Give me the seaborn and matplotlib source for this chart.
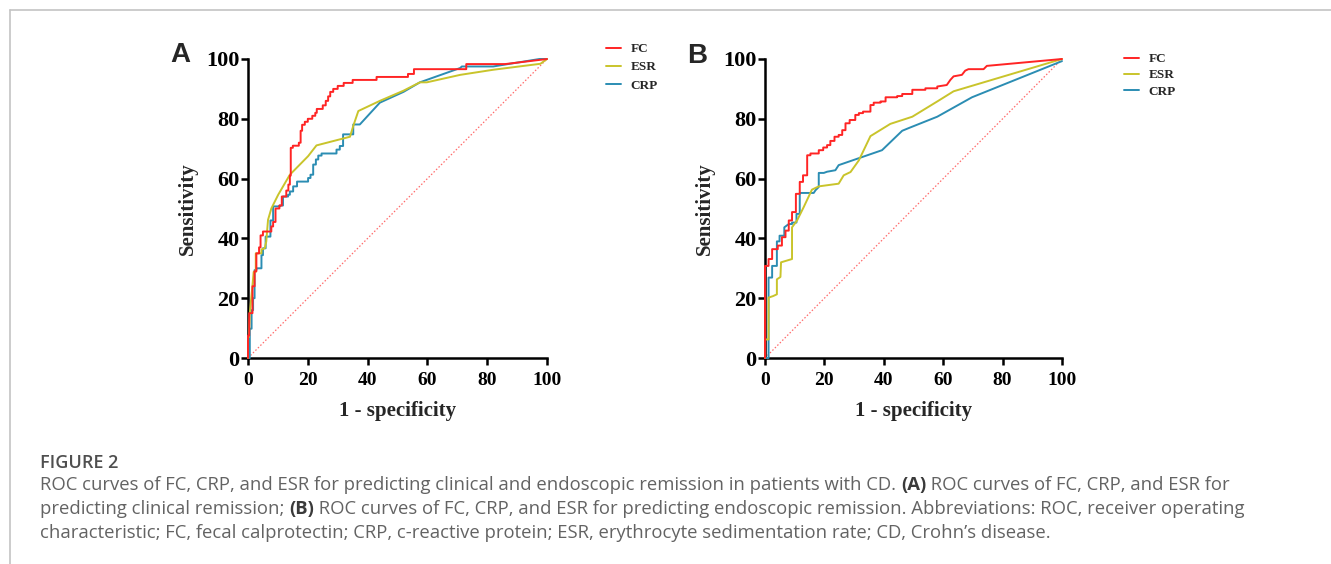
import numpy as np
import pandas as pd
import matplotlib
matplotlib.use('Agg')
import matplotlib.pyplot as plt
from matplotlib.lines import Line2D
import seaborn as sns

# ── ROC points: (1 - specificity, sensitivity), in % ──

# Panel A: clinical remission
fc_a = [(0, 0), (0, 7.5), (0.4, 7.5), (0.4, 15), (1.5, 15), (1.5, 24), (2.2, 24), (2.2, 29),
        (2.8, 29), (2.8, 35), (3.7, 35), (3.7, 37), (4.2, 37), (4.2, 41), (5, 41), (5, 42.3),
        (7.8, 42.3), (7.8, 44), (8.4, 44), (8.4, 45.5), (9.2, 45.5), (9.2, 50), (10.5, 50),
        (10.5, 51), (11.3, 51), (11.3, 54), (12.8, 54), (12.8, 56), (13.5, 56), (13.5, 58),
        (14, 58), (14, 61), (14.3, 61), (14.3, 70.3), (15, 70.3), (15, 71), (17, 71), (17, 72),
        (17.6, 72), (17.6, 76), (18.1, 76), (18.1, 78), (19, 78), (19, 79), (20, 79), (20, 80),
        (21.5, 80), (21.5, 81), (22.5, 81), (22.5, 82), (23, 82), (23, 83.3), (25, 83.3),
        (25, 84.5), (26, 84.5), (26, 86), (26.8, 86), (26.8, 87.5), (27.5, 87.5), (27.5, 89),
        (28.5, 89), (28.5, 90), (30, 90), (30, 91), (32, 91), (32, 92), (35, 92), (35, 93),
        (43, 93), (43, 94), (53.5, 94), (53.5, 95), (55.5, 95), (55.5, 96.6), (73, 96.6),
        (73, 98.3), (86, 98.3), (100, 100)]

esr_a = [(0, 0), (0, 7), (0.3, 7), (0.6, 15), (1.45, 23.8), (1.9, 28.8), (2.6, 28.8), (2.6, 35),
         (4.5, 35), (4.5, 36.3), (5.6, 36.7), (6.1, 38.9), (6.7, 46.2), (7.8, 50), (10.1, 54.6),
         (14, 61.3), (20.1, 67.5), (22.9, 71.1), (34.1, 74), (35.2, 77.6), (36.9, 82.6),
         (44.1, 86), (52, 89.4), (57.5, 92.2), (59.8, 92.2), (71, 94.7), (82, 96.4),
         (97.8, 98.4), (100, 100)]

crp_a = [(0, 0), (0.6, 0), (0.6, 9.8), (1.2, 9.8), (1.2, 16), (1.7, 16), (1.7, 20), (2.2, 20),
         (2.2, 29.4), (2.8, 29.4), (2.8, 30), (4.5, 30), (4.5, 34.4), (5, 34.4), (5, 36.7),
         (5.9, 36.7), (5.9, 40.6), (7.5, 40.6), (7.5, 46), (8.4, 46), (8.4, 50.7), (10.6, 50.7),
         (10.6, 51), (11.7, 51), (11.7, 54), (13.4, 54), (13.4, 54.6), (14, 54.6), (14, 55.7),
         (15.1, 55.7), (15.1, 57.4), (16.4, 57.4), (16.4, 59), (20.1, 59), (20.1, 60.2),
         (20.9, 60.2), (20.9, 61.3), (21.8, 61.3), (21.8, 64.7), (22.7, 64.7), (22.7, 66.4),
         (23.5, 66.4), (23.5, 67.7), (24.6, 67.7), (24.6, 68.4), (29.6, 68.4), (29.6, 69.7),
         (30.7, 69.7), (30.7, 70.9), (31.8, 70.9), (31.8, 74.8), (35.2, 74.8), (35.2, 78.1),
         (37.4, 78.1), (44.1, 85.4), (52, 89), (57.5, 92.2), (71, 97), (71.5, 97.5),
         (82, 97.5), (97.5, 100), (100, 100)]

# Panel B: endoscopic remission
fc_b = [(0, 0), (0, 30.8), (1.2, 30.8), (1.2, 33.1), (2.4, 33.1), (2.4, 36.4), (4.3, 36.4),
        (4.3, 37.6), (5.7, 37.6), (5.7, 40.4), (6.9, 40.4), (6.9, 42.6), (8, 42.6), (8, 46),
        (9.1, 46), (9.1, 48.8), (10.4, 48.8), (10.4, 54.9), (11.7, 54.9), (11.7, 58.9),
        (12.8, 58.9), (12.8, 61.1), (14.2, 61.1), (14.2, 67.8), (15.3, 67.8), (15.3, 68.4),
        (18.1, 68.4), (18.1, 69.5), (19.6, 69.5), (19.6, 70.4), (20.9, 70.4), (20.9, 71.2),
        (22, 71.2), (22, 72.6), (23.4, 72.6), (23.4, 74), (24.8, 74), (24.8, 74.6), (26, 74.6),
        (26, 76.2), (27.1, 76.2), (27.1, 78.5), (28.5, 78.5), (28.5, 79.6), (30.4, 79.6),
        (30.4, 81.3), (31.6, 81.3), (31.6, 81.9), (33, 81.9), (33, 82.4), (35.5, 82.4),
        (35.5, 84.6), (36.6, 84.6), (36.6, 85.4), (38.9, 85.4), (38.9, 85.8), (40.6, 85.8),
        (40.6, 87.2), (44.5, 87.2), (44.5, 87.6), (46.2, 87.6), (46.2, 88.3), (49.6, 88.3),
        (49.6, 89.7), (54, 89.7), (54, 90.2), (58, 90.2), (58, 90.8), (61.2, 91.3), (62.4, 93),
        (63.5, 94.2), (66.3, 94.7), (67.4, 96.1), (68.5, 96.6), (73.6, 96.6), (74.7, 97.7),
        (100, 100)]

esr_b = [(0, 0), (0, 6.2), (1.2, 6.2), (1.2, 20.2), (2.7, 20.7), (4, 21.3), (4, 26.3),
         (5.2, 27.1), (5.4, 32), (9.1, 33.1), (9.1, 43.7), (10.8, 46), (13, 50.4), (15.8, 56.3),
         (18.1, 57.4), (24.8, 58.3), (26.5, 61.1), (28.8, 62.2), (31.6, 66.1), (35.5, 74.2),
         (42.2, 78.3), (49.6, 80.7), (58, 85.8), (63.5, 89.2), (100, 100)]

crp_b = [(0, 0), (1.2, 0), (1.2, 26.9), (2.4, 26.9), (2.4, 30.8), (4, 30.8), (4, 39),
         (4.9, 39), (4.9, 40.9), (6.5, 40.9), (6.5, 43.7), (8, 44.8), (9.1, 44.8), (9.1, 45.3),
         (10.6, 45.3), (10.6, 48.2), (11.7, 48.2), (11.7, 55.2), (16.4, 55.2), (17, 56.1),
         (18.1, 57.2), (18.1, 61.9), (19.8, 61.9), (20.9, 62.3), (23.7, 62.8), (24.8, 64.5),
         (39.4, 69.5), (46.2, 76), (48.4, 76.9), (58, 80.7), (69.7, 87.2), (100, 99.3)]

markers = ['FC', 'ESR', 'CRP']
colors = {'FC': '#ff2424', 'ESR': '#c9c42b', 'CRP': '#2b8db3'}
ticks = [0, 20, 40, 60, 80, 100]

caption_title = 'FIGURE 2'
caption_lines = [
    [('ROC curves of FC, CRP, and ESR for predicting clinical and endoscopic remission in patients with CD. ', 'normal'),
     ('(A)', 'bold'), (' ROC curves of FC, CRP, and ESR for', 'normal')],
    [('predicting clinical remission; ', 'normal'), ('(B)', 'bold'),
     (' ROC curves of FC, CRP, and ESR for predicting endoscopic remission. Abbreviations: ROC, receiver operating', 'normal')],
    [('characteristic; FC, fecal calprotectin; CRP, c-reactive protein; ESR, erythrocyte sedimentation rate; CD, Crohn\u2019s disease.', 'normal')],
]

# ── Style ───────────────────────────────────────────────────
sns.set_style('ticks')
plt.rcParams['font.family'] = ['Liberation Serif', 'DejaVu Serif']
plt.rcParams['font.weight'] = 'bold'

W, H = 1331, 564
fig = plt.figure(figsize=(W / 100, H / 100), dpi=100)

panels = [
    dict(letter='A', curves={'FC': fc_a, 'ESR': esr_a, 'CRP': crp_a},
         rect=[248, 59, 299, 299], letter_xy=(180, 55), leg_xy=(606, 43), leg_space=0.45),
    dict(letter='B', curves={'FC': fc_b, 'ESR': esr_b, 'CRP': crp_b},
         rect=[765, 59, 297, 299], letter_xy=(697, 56), leg_xy=(1124, 53), leg_space=0.3),
]

for p in panels:
    x0, y0, w, h = p['rect']
    ax = fig.add_axes([x0 / W, 1 - (y0 + h) / H, w / W, h / H])

    # chance line
    sns.lineplot(x=[0, 100], y=[0, 100], ax=ax, color='#ff6b6b', lw=0.9,
                 linestyle=(0, (1.2, 1.6)), estimator=None, sort=False, clip_on=False)

    for name, z in [('CRP', 3), ('ESR', 4), ('FC', 5)]:
        df = pd.DataFrame(p['curves'][name], columns=['fpr', 'tpr'])
        sns.lineplot(data=df, x='fpr', y='tpr', ax=ax, estimator=None, sort=False,
                     color=colors[name], lw=1.4, label=name, zorder=z, clip_on=False)

    ax.set_xlim(0, 100)
    ax.set_ylim(0, 100)
    ax.set_xticks(ticks)
    ax.set_yticks(ticks)
    sns.despine(ax=ax)
    for s in ['left', 'bottom']:
        ax.spines[s].set_linewidth(1.8)
        ax.spines[s].set_color('black')
    ax.tick_params(axis='both', direction='out', length=5, width=1.8, colors='black')
    ax.tick_params(axis='x', pad=5, labelsize=14)
    ax.tick_params(axis='y', pad=1, labelsize=16)
    ax.set_xlabel('1 - specificity', fontsize=15, fontweight='bold', labelpad=9)
    ax.set_ylabel('Sensitivity', fontsize=15, fontweight='bold', labelpad=6)

    handles, labels = ax.get_legend_handles_labels()
    order = [labels.index(m) for m in markers]
    lx, ly = p['leg_xy']
    ax.legend([handles[i] for i in order], [labels[i] for i in order],
              loc='upper left', bbox_to_anchor=(lx / W, 1 - ly / H),
              bbox_transform=fig.transFigure, frameon=False,
              prop={'family': 'Liberation Serif', 'weight': 'bold', 'size': 9.5},
              handlelength=1.1, handletextpad=0.75, labelspacing=p['leg_space'],
              borderpad=0, borderaxespad=0)

    tx, ty = p['letter_xy']
    fig.text(tx / W, 1 - ty / H, p['letter'], ha='center', va='center',
             family=['Liberation Sans', 'DejaVu Sans'], fontweight='bold', fontsize=20)

# ── Caption ─────────────────────────────────────────────────
cap_font = ['Open Sans', 'DejaVu Sans']
cap_size = 13.3
fig.text(40 / W, 1 - 467.5 / H, caption_title, ha='left', va='baseline',
         family=cap_font, fontweight='semibold', fontsize=13, color='#4f4f4f')

baselines = [490, 514.3, 538.5]
for line, base in zip(caption_lines, baselines):
    prev = None
    for txt, wt in line:
        if prev is None:
            prev = fig.text(40 / W, 1 - base / H, txt, ha='left', va='baseline',
                            family=cap_font, fontweight=wt, fontsize=cap_size, color='#636363')
        else:
            prev = ax.annotate(txt, xy=(1, 0), xycoords=prev, ha='left', va='bottom',
                               family=cap_font, fontweight=wt, fontsize=cap_size,
                               color='#636363' if wt == 'normal' else '#3a3a3a')

# thin frame of the figure box
fig.add_artist(Line2D([10 / W, 1], [1 - 10 / H, 1 - 10 / H], transform=fig.transFigure,
                      color='#c4c4c4', lw=1.2))
fig.add_artist(Line2D([10 / W, 10 / W], [0, 1 - 10 / H], transform=fig.transFigure,
                      color='#c4c4c4', lw=1.2))

fig.savefig('out.png', dpi=100)
plt.close(fig)
